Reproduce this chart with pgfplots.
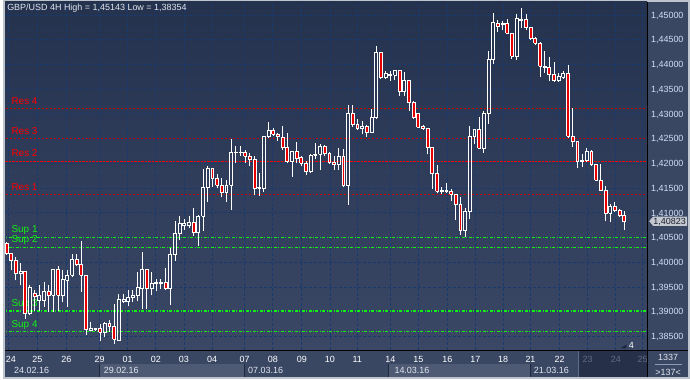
\documentclass[border=0pt]{standalone}
\usepackage{fontspec}
\setmainfont{Liberation Sans}
\usepackage{pgfplots}
\usepackage{pgfplotstable}
\pgfplotsset{compat=1.18}
\pgfdeclarelayer{bg}
\pgfsetlayers{bg,main}

\definecolor{bordercol}{RGB}{190,196,206}
\definecolor{bgtop}{RGB}{36,50,78}
\definecolor{bgbot}{RGB}{58,72,102}
\definecolor{panelcol}{RGB}{58,71,99}
\definecolor{bandcol}{RGB}{78,90,115}
\definecolor{futcol}{RGB}{38,48,72}
\definecolor{sepcol}{RGB}{30,40,62}
\definecolor{gridcol}{RGB}{25,58,110}
\definecolor{labcol}{RGB}{210,222,245}
\definecolor{bearred}{RGB}{230,0,0}
\definecolor{reslinecol}{RGB}{200,0,0}
\definecolor{res2col}{RGB}{245,0,0}
\definecolor{supcol}{RGB}{20,240,20}
\definecolor{futtext}{RGB}{95,108,135}
\definecolor{tagcol}{RGB}{196,200,208}
\definecolor{tagtext}{RGB}{25,30,45}
\definecolor{titlecol}{RGB}{225,230,240}

\newcommand\fs{\fontsize{9bp}{10bp}\selectfont}
\newcommand\fl{\fontsize{10bp}{11bp}\selectfont}

% GBP/USD 4H candles: index, open, high, low, close
\pgfplotstableread{
x o h l c
0 1.40386 1.40402 1.40157 1.40171
1 1.40171 1.40185 1.39849 1.40036
2 1.40036 1.40105 1.39634 1.39783
3 1.39783 1.39984 1.39533 1.39823
4 1.39823 1.39830 1.38863 1.38964
5 1.38964 1.39533 1.38950 1.39501
6 1.39366 1.39433 1.39018 1.39312
7 1.39219 1.39533 1.39018 1.39326
8 1.39219 1.39602 1.39099 1.39420
9 1.39420 1.39533 1.38998 1.39332
10 1.39332 1.39869 1.38998 1.39849
11 1.39849 1.39916 1.39018 1.39332
12 1.39332 1.39849 1.39199 1.39648
13 1.39634 1.39835 1.39099 1.39734
14 1.39734 1.40171 1.39702 1.40050
15 1.40050 1.40171 1.39916 1.39956
16 1.39956 1.40427 1.39400 1.39734
17 1.39734 1.39740 1.38527 1.38642
18 1.38628 1.38797 1.38616 1.38656
19 1.38642 1.38682 1.38616 1.38656
20 1.38656 1.38763 1.38414 1.38587
21 1.38587 1.38797 1.38481 1.38763
22 1.38763 1.38829 1.38596 1.38708
23 1.38708 1.39165 1.38354 1.38441
24 1.38427 1.39352 1.38420 1.39246
25 1.39199 1.39366 1.39179 1.39246
26 1.39199 1.39433 1.39111 1.39286
27 1.39280 1.39433 1.39199 1.39320
28 1.39320 1.39803 1.39211 1.39501
29 1.39467 1.40205 1.39064 1.39855
30 1.39855 1.39860 1.39064 1.39467
31 1.39467 1.39803 1.39332 1.39567
32 1.39573 1.39668 1.39412 1.39587
33 1.39567 1.39654 1.39467 1.39602
34 1.39587 1.39883 1.39433 1.39467
35 1.39467 1.40286 1.39131 1.40151
36 1.40151 1.40841 1.40036 1.40573
37 1.40573 1.40930 1.40459 1.40775
38 1.40740 1.40875 1.40660 1.40775
39 1.40740 1.40930 1.40688 1.40795
40 1.40795 1.41091 1.40539 1.40594
41 1.40594 1.40956 1.40326 1.40930
42 1.40930 1.41895 1.40640 1.41513
43 1.41513 1.41948 1.41223 1.41895
44 1.41895 1.41900 1.41513 1.41694
45 1.41694 1.41781 1.41493 1.41559
46 1.41559 1.41714 1.41312 1.41412
47 1.41412 1.41666 1.41223 1.41559
48 1.41559 1.42499 1.41062 1.42229
49 1.42217 1.42350 1.42016 1.42229
50 1.42217 1.42350 1.42149 1.42229
51 1.42217 1.42270 1.42016 1.42149
52 1.42149 1.42217 1.41948 1.42083
53 1.42083 1.42149 1.41358 1.41493
54 1.41493 1.41801 1.41332 1.41513
55 1.41493 1.42551 1.41412 1.42539
56 1.42539 1.42833 1.42530 1.42660
57 1.42660 1.42720 1.42551 1.42592
58 1.42592 1.42620 1.42451 1.42539
59 1.42519 1.42752 1.42270 1.42318
60 1.42318 1.42620 1.42002 1.42036
61 1.42036 1.42245 1.41734 1.42237
62 1.42237 1.42439 1.42002 1.42097
63 1.42117 1.42149 1.41948 1.42002
64 1.42002 1.42048 1.41767 1.41835
65 1.41835 1.42183 1.41815 1.42163
66 1.42163 1.42419 1.42083 1.42183
67 1.42183 1.42384 1.41867 1.42350
68 1.42350 1.42364 1.42149 1.42203
69 1.42203 1.42229 1.42002 1.42016
70 1.42016 1.42149 1.41867 1.41976
71 1.41976 1.42318 1.41867 1.42149
72 1.42149 1.42284 1.41513 1.41545
73 1.41545 1.43189 1.41163 1.43008
74 1.43008 1.43189 1.42740 1.42787
75 1.42787 1.42901 1.42672 1.42700
76 1.42700 1.42853 1.42585 1.42740
77 1.42740 1.42767 1.42539 1.42632
78 1.42632 1.43103 1.42625 1.42921
79 1.42921 1.44376 1.42915 1.44241
80 1.44241 1.44250 1.43720 1.43726
81 1.43726 1.43859 1.43712 1.43813
82 1.43779 1.43859 1.43672 1.43793
83 1.43779 1.43893 1.43692 1.43873
84 1.43873 1.43880 1.43356 1.43445
85 1.43445 1.43847 1.43356 1.43672
86 1.43672 1.43692 1.43054 1.43223
87 1.43223 1.43255 1.42907 1.42921
88 1.43002 1.43022 1.42720 1.42732
89 1.42740 1.42773 1.42680 1.42700
90 1.42700 1.42706 1.42183 1.42330
91 1.42330 1.42335 1.41479 1.41795
92 1.41795 1.41968 1.41392 1.41433
93 1.41433 1.41525 1.41378 1.41445
94 1.41433 1.41594 1.41392 1.41459
95 1.41433 1.41479 1.41231 1.41378
96 1.41378 1.41385 1.40855 1.41163
97 1.41163 1.41312 1.40559 1.40640
98 1.40640 1.41097 1.40519 1.41030
99 1.41030 1.42752 1.40875 1.42551
100 1.42551 1.42692 1.42384 1.42686
101 1.42686 1.42934 1.42297 1.42304
102 1.42304 1.43068 1.42217 1.43002
103 1.43002 1.44276 1.42801 1.44095
104 1.44095 1.45034 1.44008 1.44853
105 1.44833 1.44899 1.44664 1.44765
106 1.44799 1.44879 1.44698 1.44833
107 1.44833 1.44919 1.44625 1.44632
108 1.44632 1.44640 1.44115 1.44161
109 1.44161 1.45014 1.44095 1.44919
110 1.44889 1.45143 1.44744 1.44899
111 1.44899 1.45014 1.44698 1.44744
112 1.44744 1.44750 1.44497 1.44531
113 1.44531 1.44563 1.44396 1.44431
114 1.44431 1.44451 1.43738 1.43960
115 1.43960 1.44276 1.43827 1.43928
116 1.43928 1.44141 1.43658 1.43793
117 1.43793 1.44048 1.43658 1.43672
118 1.43672 1.43827 1.43646 1.43752
119 1.43738 1.43873 1.43712 1.43807
120 1.43807 1.43994 1.42519 1.42551
121 1.42551 1.43123 1.42330 1.42439
122 1.42439 1.42445 1.41901 1.42036
123 1.42042 1.42183 1.41928 1.42048
124 1.42048 1.42304 1.42040 1.42237
125 1.42237 1.42264 1.41948 1.41968
126 1.41968 1.41996 1.41634 1.41660
127 1.41660 1.41996 1.41445 1.41459
128 1.41459 1.41545 1.40829 1.40990
129 1.40990 1.41177 1.40809 1.41123
130 1.41123 1.41211 1.41010 1.41042
131 1.41042 1.41077 1.40909 1.40942
132 1.40942 1.41042 1.40654 1.40823
}\candles

% support / resistance levels
\pgfplotstableread{
name p
Res4 1.43103
Res3 1.42499
Res2 1.42042
Res1 1.41372
Sup1 1.40507
Sup2 1.40306
Sup3 1.39018
Sup4 1.38596
}\levels

\pgfplotsset{
  wick/.style={draw=white, line width=1bp, solid, mark=none, forget plot},
  body/.style={draw=white, line width=1bp, solid, mark=none, forget plot, line join=miter},
  reslvl/.style={reslinecol, line width=1bp, dash pattern=on 2bp off 2bp, forget plot},
  res2lvl/.style={res2col, line width=1.5bp, dash pattern=on 2.5bp off 1bp, forget plot},
  suplvl/.style={supcol, line width=1.2bp, dash pattern=on 3bp off 1.5bp on 1bp off 1.5bp, forget plot},
}

\begin{document}
\begin{tikzpicture}[x=1bp,y=1bp]
\begin{axis}[
  scale only axis,
  width=645bp, height=350bp,
  xmin=-0.32, xmax=136.9, ymin=1.382193, ymax=1.452616,
  axis line style={draw=none},
  tick style={draw=none}, major tick length=0pt,
  axis background/.style={top color=bgtop, bottom color=bgbot},
  grid=major,
  major grid style={gridcol, line width=0.8bp, dash pattern=on 3bp off 2bp},
  ytick={1.385,1.39,1.395,1.4,1.405,1.41,1.415,1.42,1.425,1.43,1.435,1.44,1.445,1.45},
  yticklabel pos=right,
  yticklabel style={anchor=base west, inner sep=0pt, xshift=3.7bp, yshift=-3.2bp, text=labcol, font=\fs,
     /pgf/number format/.cd, fixed, fixed zerofill, precision=5, use comma, assume math mode=true},
  xtick={0.3,6.6,12.8,19.9,25.85,31.9,37.9,43.9,50.85,56.9,63.1,69.1,74.95,82.0,88.0,94.2,100.2,106.1,111.96,118.2,124.15,130.2,135.9},
  xticklabels={\hspace*{6bp}24,25,26,29,01,02,03,04,07,08,09,10,11,14,15,16,17,18,21,22,\textcolor{futtext}{23},\textcolor{futtext}{24},\textcolor{futtext}{25}},
  xticklabel style={anchor=base, inner sep=0pt, yshift=-12bp, text=white, font=\fs},
]
% resistance / support levels
\pgfplotsforeachungrouped \j in {0,1,3}{%
  \pgfplotstablegetelem{\j}{p}\of\levels \edef\lv{\pgfplotsretval}%
  \edef\doit{\noexpand\addplot[reslvl] coordinates {(-1,\lv) (140,\lv)};}\doit
}
\pgfplotstablegetelem{2}{p}\of\levels \edef\lv{\pgfplotsretval}
\edef\doit{\noexpand\addplot[res2lvl] coordinates {(-1,\lv) (140,\lv)};}\doit
\pgfplotsforeachungrouped \j in {4,...,7}{%
  \pgfplotstablegetelem{\j}{p}\of\levels \edef\lv{\pgfplotsretval}%
  \edef\doit{\noexpand\addplot[suplvl] coordinates {(-1,\lv) (140,\lv)};}\doit
}

\node[anchor=base west, text=red, font=\fl, inner sep=0pt, yshift=4.4bp] at (axis cs:1.02,1.43103) {Res 4};
\node[anchor=base west, text=red, font=\fl, inner sep=0pt, yshift=4.4bp] at (axis cs:1.02,1.42499) {Res 3};
\node[anchor=base west, text=red, font=\fl, inner sep=0pt, yshift=4.4bp] at (axis cs:1.02,1.42042) {Res 2};
\node[anchor=base west, text=red, font=\fl, inner sep=0pt, yshift=4.4bp] at (axis cs:1.02,1.41372) {Res 1};
\node[anchor=base west, text=supcol, font=\fl, inner sep=0pt, yshift=4.4bp] at (axis cs:1.02,1.40507) {Sup 1};
\node[anchor=base west, text=supcol, font=\fl, inner sep=0pt, yshift=4.4bp] at (axis cs:1.02,1.40306) {Sup 2};
\node[anchor=base west, text=supcol, font=\fl, inner sep=0pt, yshift=4.4bp] at (axis cs:1.02,1.39018) {Sup 3};
\node[anchor=base west, text=supcol, font=\fl, inner sep=0pt, yshift=4.4bp] at (axis cs:1.02,1.38596) {Sup 4};

% candles
\pgfplotstablegetrowsof{\candles}
\pgfmathtruncatemacro\nlast{\pgfplotsretval-1}
\pgfplotsforeachungrouped \k in {0,...,\nlast}{%
  \pgfplotstablegetelem{\k}{x}\of\candles\let\cx\pgfplotsretval
  \pgfplotstablegetelem{\k}{o}\of\candles\let\co\pgfplotsretval
  \pgfplotstablegetelem{\k}{h}\of\candles\let\ch\pgfplotsretval
  \pgfplotstablegetelem{\k}{l}\of\candles\let\cl\pgfplotsretval
  \pgfplotstablegetelem{\k}{c}\of\candles\let\cc\pgfplotsretval
  \pgfmathtruncatemacro\isbear{\cc<\co ? 1 : 0}%
  \ifnum\isbear=1
    \let\bl\cc \let\bu\co \def\fillcol{bearred}%
  \else
    \let\bl\co \let\bu\cc \def\fillcol{none}%
  \fi
  \pgfmathsetmacro\xa{\cx-0.31}%
  \pgfmathsetmacro\xb{\cx+0.31}%
  \edef\doit{%
    \noexpand\addplot[wick] coordinates {(\cx,\cl) (\cx,\bl)};
    \noexpand\addplot[wick] coordinates {(\cx,\bu) (\cx,\ch)};
    \noexpand\addplot[body, fill=\fillcol] coordinates {(\xa,\bl) (\xb,\bl) (\xb,\bu) (\xa,\bu) (\xa,\bl)};
  }%
  \doit
}
\coordinate (P) at (rel axis cs:0,0);
\end{axis}

\begin{scope}[shift={(P)}, xshift=-2bp, yshift=-29bp]
\begin{pgfonlayer}{bg}
\fill[bordercol] (0,0) rectangle (690,381);
\fill[panelcol] (648,2) rectangle (688,379);
\fill[panelcol] (2,2) rectangle (647,28);
\fill[bandcol] (97,2) rectangle (242,15);
\fill[bandcol] (387,2) rectangle (530,15);
\fill[futcol] (578,2) rectangle (647,28);
\foreach \sx in {97,242,387,530}{\draw[sepcol, line width=1bp] (\sx,2) -- (\sx,15);}
\draw[futtext, line width=0.8bp] (578,2) -- (578,28);
\end{pgfonlayer}
% title
\node[anchor=base west, inner sep=0pt, text=titlecol, font=\fs] at (4,370.3) {GBP/USD 4H High = 1,45143 Low = 1,38354};
% date row
\foreach \dx/\dl in {11/24.02.16,101/29.02.16,246/07.03.16,393/14.03.16,533/21.03.16}{
  \node[anchor=base west, inner sep=0pt, text=titlecol, font=\fs] at (\dx,6) {\dl};}
% bottom right box
\node[anchor=base, inner sep=0pt, text=titlecol, font=\fs] at (668,19.3) {1337};
\draw[labcol!55!panelcol, line width=0.8bp] (655,15) -- (682,15);
\node[anchor=base, inner sep=0pt, text=titlecol, font=\fs] at (668,4.3) {>137<};
% current price tag
\fill[tagcol] (649,158.8) -- (653,163.5) -- (687,163.5) -- (687,154.2) -- (653,154.2) -- cycle;
\node[anchor=base, inner sep=0pt, text=tagtext, font=\fs] at (669.5,156) {1,40823};
% small marker and count
\fill[sepcol] (620,31) -- (626,31) -- (626,35) -- cycle;
\node[anchor=base, inner sep=0pt, text=white, font=\fs] at (631,31) {4};
% separators
\draw[black, line width=1bp] (647.5,2) -- (647.5,379);
\draw[black, line width=1bp] (2,28.5) -- (688,28.5);
\end{scope}
\end{tikzpicture}
\end{document}
